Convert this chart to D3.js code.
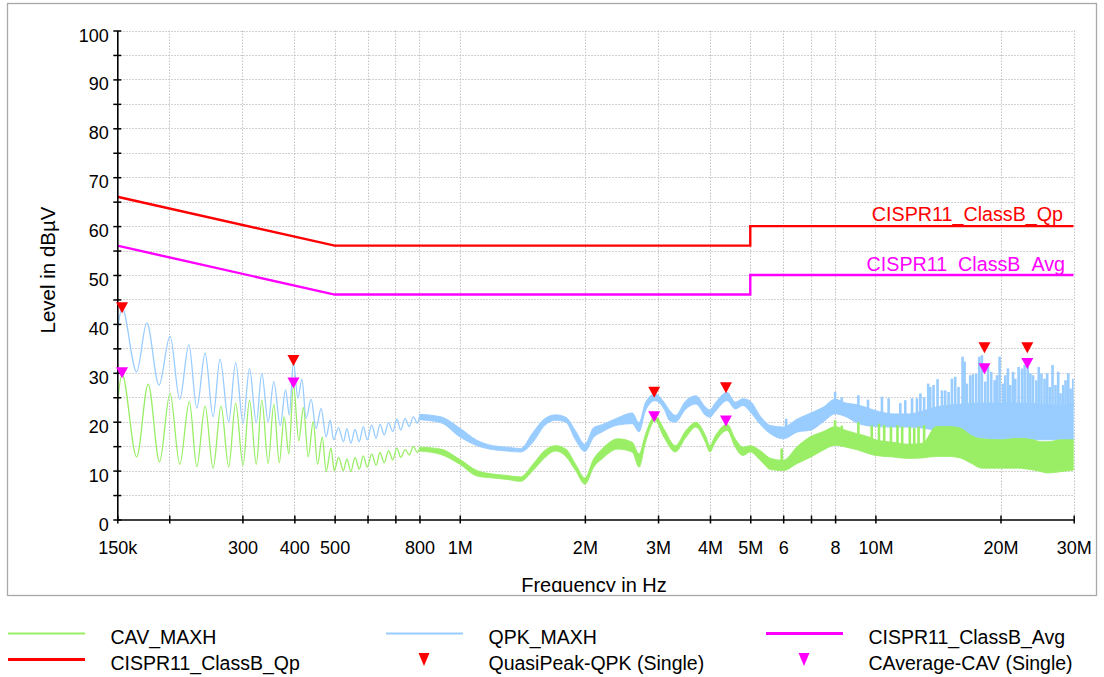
<!DOCTYPE html>
<html>
<head>
<meta charset="utf-8">
<script src="https://cdn.jsdelivr.net/npm/d3@7.9.0/dist/d3.min.js"></script>
<style>
  body { margin: 0; background: #fff; }
  svg { display: block; font-family: "Liberation Sans", Arial, sans-serif; }
</style>
</head>
<body>
<svg id="chart" width="1104" height="677"></svg>
<script>
// ---- data ----
// limit lines: [Hz, dBuV]
const qpLimit  = [[150e3, 66], [500e3, 56], [5e6, 56], [5e6, 60], [30e6, 60]];
const avgLimit = [[150e3, 56], [500e3, 46], [5e6, 46], [5e6, 50], [30e6, 50]];

// low-frequency part of the traces, peaks and troughs: [kHz, dBuV]
const qpkOsc = [
  [150, 38.4], [154, 43.2], [167, 30.2], [176.6, 40.2], [189, 27.5], [200.9, 37.5],
  [212, 24.6], [223, 35.7], [233, 22.8], [244, 34.0], [255, 21.0], [265, 32.8],
  [278, 20.0], [289, 32.1], [301, 19.7], [312, 30.9], [324, 19.8], [334, 29.9],
  [346, 20.0], [357, 28.2], [370, 19.2], [381, 26.5], [389, 21.4], [398, 32.1],
  [408, 24.8], [417, 28.7], [427, 20.7], [439, 24.6], [451, 18.6], [464, 22.7],
  [477, 16.9], [488, 20.3], [497, 16.3], [511, 18.8], [525, 15.9], [535, 18.6],
  [547, 15.6], [560, 18.4], [573, 15.9], [586, 19.0], [599, 16.3], [614, 19.3],
  [629, 16.6], [643, 19.5], [658, 17.3], [674, 19.8], [690, 18.0], [706, 20.5],
  [721, 18.3], [739, 20.7], [756, 19.0], [773, 21.0], [791, 19.7], [800, 21.0]
];
const cavOsc = [
  [150, 23.4], [154, 29.7], [167, 12.8], [178, 27.7], [189.5, 11.8], [200.9, 25.8],
  [212, 11.3], [223.6, 24.1], [233, 10.8], [244, 23.2], [255, 10.5], [266.5, 23.2],
  [278, 10.8], [289, 23.8], [301, 11.1], [312, 24.4], [324, 11.3], [334, 24.4],
  [346, 11.5], [357, 23.6], [368, 11.6], [378, 21.0], [388, 13.4], [398, 27.5],
  [410, 16.1], [420.6, 22.9], [432, 12.8], [444, 20.0], [455, 11.3], [467, 16.9],
  [477, 9.8], [490, 14.6], [499, 10.0], [511, 12.7], [525, 10.0], [535, 12.4],
  [547, 9.8], [560, 12.7], [573, 10.3], [586, 13.0], [599, 10.7], [614, 13.4],
  [629, 11.1], [643, 13.7], [658, 11.6], [674, 14.1], [690, 12.2], [706, 14.6],
  [721, 12.7], [739, 14.3], [756, 13.2], [773, 14.9], [791, 13.7], [800, 14.4]
];

// dense part of the traces as min/max envelope: [MHz, low, high]
const qpkBand = [
  [0.8, 20.4, 21.5], [0.9, 19.8, 21.0], [1.0, 16.9, 18.7], [1.1, 15.1, 16.2],
  [1.2, 14.3, 15.1], [1.3, 14.0, 14.8], [1.4, 13.8, 14.5], [1.5, 15.8, 17.8],
  [1.6, 19.2, 20.6], [1.7, 20.3, 21.4], [1.8, 19.9, 20.9], [1.9, 16.2, 18.1],
  [2.0, 13.9, 15.4], [2.1, 16.8, 18.8], [2.2, 17.9, 19.4], [2.4, 19.3, 20.8],
  [2.6, 19.6, 21.8], [2.7, 17.9, 19.8], [2.8, 22.3, 24.0], [2.95, 24.3, 25.7],
  [3.1, 22.6, 24.0], [3.2, 20.2, 22.3], [3.3, 19.9, 21.3], [3.5, 22.6, 24.3],
  [3.7, 23.6, 25.3], [3.9, 21.3, 23.0], [4.0, 20.9, 22.4], [4.1, 21.9, 23.6],
  [4.4, 24.3, 26.0], [4.6, 22.6, 24.0], [4.8, 23.3, 24.7], [5.0, 22.0, 24.2],
  [5.3, 19.3, 21.0], [5.6, 17.5, 19.2], [6.0, 16.5, 18.9], [6.5, 17.9, 20.6],
  [7.0, 18.3, 21.8], [7.5, 20.0, 23.0], [8.0, 21.6, 24.6], [8.5, 21.0, 23.8],
  [9.0, 19.8, 23.5], [10, 19.0, 22.3], [11, 18.9, 21.6], [12, 18.9, 21.6],
  [13, 18.7, 22.2], [14, 18.3, 23.0], [15, 18.3, 23.4], [16, 17.6, 23.6],
  [18, 16.6, 23.8], [20, 16.3, 23.8], [22, 16.3, 23.8], [25, 16.3, 23.6],
  [28, 16.3, 23.3], [30, 16.3, 23.8]
];
const cavBand = [
  [0.8, 14.0, 14.8], [0.9, 13.3, 14.4], [1.0, 11.3, 12.3], [1.1, 8.9, 10.0],
  [1.2, 8.5, 9.3], [1.3, 8.2, 9.0], [1.4, 7.8, 8.7], [1.5, 10.0, 11.3],
  [1.6, 12.6, 14.1], [1.7, 14.0, 15.1], [1.8, 12.9, 14.4], [1.9, 10.0, 11.3],
  [2.0, 7.2, 8.5], [2.1, 10.7, 12.4], [2.2, 12.4, 14.4], [2.4, 14.4, 16.5],
  [2.6, 13.8, 15.8], [2.7, 10.7, 13.4], [2.8, 15.8, 17.5], [2.95, 20.2, 21.2],
  [3.1, 16.8, 18.5], [3.3, 13.8, 15.1], [3.5, 16.8, 18.2], [3.7, 18.9, 19.9],
  [3.9, 15.8, 17.2], [4.0, 13.8, 15.1], [4.1, 15.5, 16.8], [4.4, 18.2, 19.5],
  [4.6, 14.8, 16.5], [4.8, 13.1, 14.8], [5.0, 13.8, 15.1], [5.3, 12.0, 14.0],
  [5.6, 10.2, 12.5], [6.0, 10.0, 12.1], [6.5, 11.5, 15.0], [7.0, 12.8, 17.0],
  [7.5, 14.2, 18.0], [8.0, 15.2, 19.0], [8.5, 14.8, 18.2], [9.0, 14.3, 17.6],
  [9.7, 13.4, 16.8], [10, 13.1, 16.3], [11, 12.8, 15.8], [12, 12.5, 15.4],
  [13, 12.6, 15.6], [14, 12.9, 19.0], [15, 12.9, 19.0], [16, 12.6, 18.7],
  [17, 11.5, 17.2], [18, 10.5, 16.5], [20, 10.5, 16.3], [22, 10.5, 16.6],
  [24, 10.1, 16.3], [25, 9.8, 15.9], [26, 9.5, 15.9], [28, 9.8, 16.3], [30, 10.1, 16.3]
];

// isolated spikes above the envelope: [MHz, top dBuV]
const qpkSpikes = [
  [6.1, 20.6], [7.3, 22.5], [8.0, 26.1], [8.3, 25.0], [9.1, 25.4], [9.6, 24.5],
  [10.37, 25.1], [10.76, 24.8], [11.48, 23.8], [11.80, 24.4], [12.25, 24.8], [12.59, 24.8],
  [12.83, 25.8], [13.1, 25.0], [13.4, 27.8],
  [13.55, 27.1], [13.80, 27.5], [14.11, 28.7], [14.46, 26.4], [14.72, 26.4], [15.00, 26.1],
  [15.28, 28.8], [15.56, 29.2], [15.85, 27.1], [16.21, 33.3], [16.39, 32.3], [16.60, 27.8],
  [16.91, 29.5], [17.16, 29.7], [17.48, 29.9], [17.78, 33.3], [18.04, 33.6], [18.38, 28.2],
  [18.66, 31.2], [19.00, 30.2], [19.36, 28.5], [19.61, 29.5], [19.90, 33.3], [20.27, 27.8],
  [20.54, 29.5], [20.84, 30.9], [21.11, 27.5], [21.43, 30.2], [21.71, 28.8], [22.11, 31.2],
  [22.53, 30.9], [22.86, 31.6], [23.25, 31.9], [23.60, 29.9], [23.95, 29.5], [24.40, 28.5],
  [24.72, 31.2], [25.09, 29.9], [25.52, 28.8], [25.90, 29.9], [26.28, 27.1], [26.68, 31.6],
  [27.12, 27.5], [27.53, 30.2], [27.89, 25.8], [28.31, 27.5], [28.68, 28.5], [29.11, 29.9],
  [29.49, 26.8], [29.93, 28.8]
];
const cavSpikes = [
  [5.95, 14.5], [8.0, 20.3], [8.3, 19.2], [9.1, 19.9], [9.8, 19.2], [10.2, 19.6],
  [10.5, 19.3], [10.9, 19.0], [11.3, 19.3], [11.6, 19.0], [12.1, 19.0], [12.4, 18.7],
  [12.7, 19.0], [13.1, 19.3]
];

// final measurements (triangle tip): [Hz, dBuV]
const qpkMarkers = [[154e3, 42.2], [398e3, 31.4], [2.936e6, 24.9], [4.37e6, 25.8], [18.3e6, 34.0], [23.2e6, 34.0]];
const cavMarkers = [[154e3, 28.9], [398e3, 26.8], [2.936e6, 19.9], [4.37e6, 19.0], [18.3e6, 29.7], [23.2e6, 30.8]];

// axes
const xTicks = [150e3, 200e3, 300e3, 400e3, 500e3, 600e3, 700e3, 800e3, 1e6, 2e6, 3e6, 4e6, 5e6, 6e6, 7e6, 8e6, 10e6, 20e6, 30e6];
const xTickLabels = ['150k', '', '300', '400', '500', '', '', '800', '1M', '2M', '3M', '4M', '5M', '6', '', '8', '10M', '20M', '30M'];
const yTicks = d3.range(0, 101, 5);

const legendItems = [
  { name: 'CAV_MAXH', color: '#99ee66', kind: 'thin' },
  { name: 'QPK_MAXH', color: '#99ccff', kind: 'thin' },
  { name: 'CISPR11_ClassB_Avg', color: '#ff00ff', kind: 'thick' },
  { name: 'CISPR11_ClassB_Qp', color: '#ff0000', kind: 'thick' },
  { name: 'QuasiPeak-QPK (Single)', color: '#ff0000', kind: 'tri' },
  { name: 'CAverage-CAV (Single)', color: '#ff00ff', kind: 'tri' }
];

// ---- drawing ----
const BLUE = '#99ccff', GREEN = '#99ee66', RED = '#ff0000', MAG = '#ff00ff';
const svg = d3.select('#chart');

const plot = { left: 117.3, right: 1073.7, top: 30.5, bottom: 519.5 };
const x = d3.scaleLog().domain([150e3, 30e6]).range([plot.left, plot.right]);
const y = d3.scaleLinear().domain([0, 100]).range([plot.bottom, plot.top]);

// outer frame
svg.append('rect').attr('x', 7.5).attr('y', 3.5).attr('width', 1089).attr('height', 592)
  .attr('fill', '#fff').attr('stroke', '#a9a9a9').attr('stroke-width', 1.3);

svg.append('clipPath').attr('id', 'plotclip').append('rect')
  .attr('x', plot.left).attr('y', plot.top - 2)
  .attr('width', plot.right - plot.left).attr('height', plot.bottom - plot.top + 2);
svg.append('clipPath').attr('id', 'frameclip').append('rect')
  .attr('x', 8).attr('y', 4).attr('width', 1088).attr('height', 588);

// grid
const grid = svg.append('g').attr('stroke', '#c4c4c4').attr('stroke-width', 1).attr('stroke-dasharray', '1.5,1.5');
grid.selectAll('.hg').data(yTicks.filter(d => d > 0)).join('line')
  .attr('x1', plot.left).attr('x2', plot.right)
  .attr('y1', d => Math.round(y(d)) + 0.5).attr('y2', d => Math.round(y(d)) + 0.5);
grid.selectAll('.vg').data(xTicks.slice(1)).join('line')
  .attr('y1', plot.top).attr('y2', plot.bottom)
  .attr('x1', d => Math.round(x(d)) + 0.5).attr('x2', d => Math.round(x(d)) + 0.5);

const traces = svg.append('g').attr('clip-path', 'url(#plotclip)');

const oscLine = d3.line().x(d => x(d[0] * 1e3)).y(d => y(d[1])).curve(d3.curveMonotoneX);
const bandArea = d3.area().x(d => x(d[0] * 1e6)).y0(d => y(d[1])).y1(d => y(d[2])).curve(d3.curveMonotoneX);

function drawTrace(osc, band, spikes, color) {
  traces.append('path').attr('d', oscLine(osc)).attr('fill', 'none')
    .attr('stroke', color).attr('stroke-width', 1.3);
  traces.append('path').attr('d', bandArea(band)).attr('fill', color)
    .attr('stroke', color).attr('stroke-width', 0.9).attr('stroke-linejoin', 'round');
  // spikes start from the envelope top at that frequency
  const top = d3.scaleLog().domain(band.map(d => d[0])).range(band.map(d => d[2]));
  traces.append('g').selectAll('line').data(spikes).join('line')
    .attr('x1', d => x(d[0] * 1e6)).attr('x2', d => x(d[0] * 1e6))
    .attr('y1', d => y(top(d[0]) - 0.5)).attr('y2', d => y(d[1]))
    .attr('stroke', color).attr('stroke-width', 2.6);
}
drawTrace(qpkOsc, qpkBand, qpkSpikes, BLUE);
drawTrace(cavOsc, cavBand, cavSpikes, GREEN);

// limit lines
const limLine = d3.line().x(d => x(d[0])).y(d => y(d[1]));
traces.append('path').attr('d', limLine(qpLimit)).attr('fill', 'none').attr('stroke', RED).attr('stroke-width', 2.4);
traces.append('path').attr('d', limLine(avgLimit)).attr('fill', 'none').attr('stroke', MAG).attr('stroke-width', 2.4);

svg.append('text').attr('x', 1063).attr('y', 221).attr('text-anchor', 'end')
  .attr('font-size', 19.7).attr('fill', RED).text('CISPR11_ClassB_Qp');
svg.append('text').attr('x', 1065).attr('y', 271).attr('text-anchor', 'end')
  .attr('font-size', 19.7).attr('fill', MAG).text('CISPR11_ClassB_Avg');

// axes
const xAxis = d3.axisBottom(x).tickValues(xTicks).tickFormat((d, i) => xTickLabels[i]).tickSize(4).tickSizeOuter(0);
const gx = svg.append('g').attr('transform', `translate(0,${plot.bottom})`).call(xAxis);
gx.selectAll('.tick line').attr('y1', -4).attr('stroke-width', 1.5);
gx.selectAll('.tick text').attr('y', 34.5).attr('dy', null).attr('font-size', 18).attr('fill', '#000');
gx.select('.domain').attr('stroke-width', 1.6);

const yAxis = d3.axisLeft(y).tickValues(yTicks).tickFormat(d => d % 10 === 0 ? d : '').tickSize(4).tickSizeOuter(0);
const gy = svg.append('g').attr('transform', `translate(${plot.left},0)`).call(yAxis);
gy.selectAll('.tick line').attr('x1', 4).attr('stroke-width', 1.5);
gy.selectAll('.tick text').attr('x', -8.5).attr('y', 10.5).attr('dy', null).attr('font-size', 18).attr('fill', '#000');
gy.select('.domain').attr('stroke-width', 1.6);
svg.selectAll('.domain, .tick line').attr('stroke', '#000');

// axis titles
svg.append('text').attr('transform', 'translate(55,270) rotate(-90)').attr('text-anchor', 'middle')
  .attr('font-size', 20.5).attr('fill', '#000').text('Level in dBµV');
svg.append('text').attr('x', 594).attr('y', 592).attr('text-anchor', 'middle')
  .attr('clip-path', 'url(#frameclip)')
  .attr('font-size', 20).attr('fill', '#000').text('Frequency in Hz');

// markers
const tri = (w, h) => `M${-w / 2},${-h}L${w / 2},${-h}L0,0Z`;
function drawMarkers(data, color) {
  svg.append('g').selectAll('path').data(data).join('path')
    .attr('d', tri(12, 11))
    .attr('transform', d => `translate(${x(d[0])},${y(d[1])})`)
    .attr('fill', color);
}
drawMarkers(qpkMarkers, RED);
drawMarkers(cavMarkers, MAG);

// legend: 3 columns x 2 rows
const legCols = [8, 386, 766], legRows = [633.5, 659.5];
const leg = svg.append('g');
legendItems.forEach((it, i) => {
  const cx = legCols[i % 3], cy = legRows[Math.floor(i / 3)];
  const g = leg.append('g').attr('transform', `translate(${cx},${cy})`);
  if (it.kind === 'tri') {
    g.append('path').attr('d', tri(11, 13)).attr('transform', 'translate(38,6.5)').attr('fill', it.color);
  } else {
    g.append('line').attr('x1', 0).attr('x2', 77).attr('y1', 0).attr('y2', 0)
      .attr('stroke', it.color).attr('stroke-width', it.kind === 'thick' ? 3 : 2);
  }
  g.append('text').attr('x', 102.5).attr('y', 10).attr('font-size', 19.5).attr('fill', '#000').text(it.name);
});
</script>
</body>
</html>
